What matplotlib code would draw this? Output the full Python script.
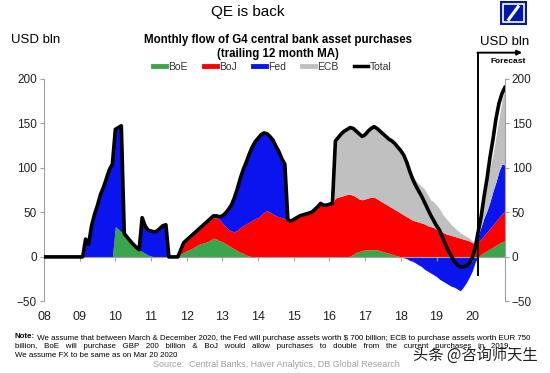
import numpy as np
import matplotlib
matplotlib.use('Agg')
import matplotlib.pyplot as plt
from matplotlib.lines import Line2D
from matplotlib.patches import Rectangle

plt.rcParams['font.family'] = ['Liberation Sans', 'DejaVu Sans']

# monthly values, Jan 2008 .. Dec 2020, USD bln (trailing 12m MA)
total = [
    0, 0, 0, 0, 0, 0, 0, 0, 0, 0, 0, 0,                      # 2008
    0, 0, 20, 14, 35, 48, 58, 70, 78, 88, 98, 104,           # 2009
    143, 145, 147, 26, 22, 18, 14, 11, 8, 44, 35, 30,        # 2010
    29, 28, 29, 32, 35, 36, 0, 0, 0, 0, 8, 16,               # 2011
    19, 22, 25, 28, 31, 34, 37, 40, 43, 46, 46, 45,          # 2012
    46, 49, 53, 58, 66, 76, 88, 98, 106, 115, 123, 129,      # 2013
    133, 137, 139, 138, 135, 131, 124, 118, 110, 104, 42, 40,  # 2014
    42, 44, 46, 47, 48, 49, 50, 53, 56, 60, 58, 58,          # 2015
    59, 60, 130, 134, 138, 141, 143, 145, 144, 141, 138, 135,  # 2016
    137, 141, 144, 146, 144, 141, 138, 135, 132, 130, 127, 123,  # 2017
    119, 114, 106, 96, 87, 80, 74, 68, 61, 54, 47, 41,       # 2018
    35, 30, 22, 14, 7, 1, -5, -9, -11, -11, -10, -7,         # 2019
    -1, 10, 28, 45, 68, 88, 112, 132, 155, 172, 183, 190,    # 2020
]

boe = [
    0, 0, 0, 0, 0, 0, 0, 0, 0, 0, 0, 0,
    0, 0, 0, 0, 0, 0, 0, 0, 0, 0, 0, 0,
    34, 31, 28, 25, 21, 17, 14, 11, 8, 6, 4, 2,
    1, 0, 0, 0, 0, 0, 0, 0, 0, 0, 3, 5,
    7, 8, 10, 12, 14, 15, 16, 17, 19, 21, 20, 18,
    17, 15, 13, 11, 9, 7, 5, 4, 2, 1, 0, 0,
    0, 0, 0, 0, 0, 0, 0, 0, 0, 0, 0, 0,
    0, 0, 0, 0, 0, 0, 0, 0, 0, 0, 0, 0,
    0, 0, 0, 0, 0, 0, 0, 1, 3, 5, 6, 7,
    8, 8, 8, 8, 8, 7, 6, 5, 4, 3, 2, 1,
    0, 0, 0, 0, 0, 0, 0, 0, 0, 0, 0, 0,
    0, 0, 0, 0, 0, 0, 0, 0, 0, 0, 0, 0,
    0, 0, 0, 3, 5, 7, 9, 11, 13, 15, 17, 18,
]

boj = [
    0, 0, 0, 0, 0, 0, 0, 0, 0, 0, 0, 0,
    0, 0, 0, 0, 0, 0, 0, 0, 0, 0, 0, 0,
    0, 0, 0, 0, 0, 0, 0, 0, 0, 0, 0, 0,
    0, 0, 0, 0, 0, 0, 0, 0, 0, 0, 5, 10,
    11, 13, 14, 15, 16, 18, 20, 22, 23, 23, 24, 24,
    21, 19, 18, 18, 19, 23, 28, 31, 35, 38, 41, 43,
    44, 47, 50, 52, 50, 48, 46, 45, 44, 43, 42, 40,
    42, 44, 46, 47, 48, 49, 50, 53, 56, 60, 58, 58,
    59, 60, 66, 67, 68, 69, 70, 69, 66, 62, 59, 57,
    57, 58, 59, 59, 57, 56, 55, 54, 53, 52, 51, 50,
    49, 47, 45, 43, 41, 40, 39, 38, 37, 35, 34, 33,
    31, 29, 28, 26, 25, 24, 23, 22, 21, 20, 19, 18,
    16, 15, 17, 17, 19, 21, 23, 25, 27, 29, 31, 34,
]

fed = [
    0, 0, 0, 0, 0, 0, 0, 0, 0, 0, 0, 0,
    0, 0, 20, 14, 35, 48, 58, 70, 78, 88, 98, 104,
    109, 114, 119, 1, 1, 1, 0, 0, 0, 38, 31, 28,
    28, 28, 29, 32, 35, 36, 0, 0, 0, 0, 0, 1,
    1, 1, 1, 1, 1, 1, 1, 1, 1, 2, 2, 3,
    8, 15, 22, 29, 38, 46, 55, 63, 69, 76, 82, 86,
    89, 90, 89, 86, 85, 83, 78, 73, 66, 61, 0, 0,
    0, 0, 0, 0, 0, 0, 0, 0, 0, 0, 0, 0,
    0, 0, 0, 0, 0, 0, 0, 0, 0, 0, 0, 0,
    0, 0, 0, 0, 0, 0, 0, 0, 0, 0, 0, 0,
    0, -1, -2, -4, -5, -7, -9, -11, -14, -16, -18, -20,
    -22, -25, -27, -29, -31, -33, -34, -36, -38, -34, -29, -23,
    -16, -6, 7, 14, 20, 24, 30, 38, 44, 52, 56, 51,
]

ecb = [
    0, 0, 0, 0, 0, 0, 0, 0, 0, 0, 0, 0,
    0, 0, 0, 0, 0, 0, 0, 0, 0, 0, 0, 0,
    0, 0, 0, 0, 0, 0, 0, 0, 0, 0, 0, 0,
    0, 0, 0, 0, 0, 0, 0, 0, 0, 0, 0, 0,
    0, 0, 0, 0, 0, 0, 0, 0, 0, 0, 0, 0,
    0, 0, 0, 0, 0, 0, 0, 0, 0, 0, 0, 0,
    0, 0, 0, 0, 0, 0, 0, 0, 0, 0, 0, 0,
    0, 0, 0, 0, 0, 0, 0, 0, 0, 0, 0, 0,
    0, 0, 64, 67, 70, 72, 73, 75, 75, 74, 73, 71,
    72, 75, 77, 79, 79, 78, 77, 76, 75, 75, 74, 72,
    70, 66, 61, 55, 50, 46, 43, 41, 39, 35, 30, 29,
    27, 25, 20, 18, 15, 12, 10, 8, 6, 5, 4, 3,
    2, 0, 6, 14, 24, 33, 38, 41, 51, 59, 71, 85,
]

years = list(range(2008, 2021))
year_labels = ['08', '09', '10', '11', '12', '13', '14', '15', '16', '17', '18', '19', '20']
forecast_start = 2020 + 2 / 12

colors = {'BoE': '#3aa64c', 'BoJ': '#ff0000', 'Fed': '#0a14ee', 'ECB': '#c0c0c0'}

x = 2008 + np.arange(len(total)) / 12
boe_a = np.array(boe, float)
boj_a = np.array(boj, float)
fed_a = np.array(fed, float)
ecb_a = np.array(ecb, float)
fed_pos = np.clip(fed_a, 0, None)
fed_neg = np.clip(fed_a, None, 0)

lvl1 = boe_a
lvl2 = lvl1 + boj_a
lvl3 = lvl2 + fed_pos
lvl4 = lvl3 + ecb_a

fig = plt.figure(figsize=(5.5, 3.73), dpi=100)
ax = fig.add_axes([0.08, 0.1917, 0.838, 0.5978])

ax.fill_between(x, 0, lvl1, color=colors['BoE'], lw=0)
ax.fill_between(x, lvl1, lvl2, color=colors['BoJ'], lw=0)
ax.fill_between(x, lvl2, lvl3, color=colors['Fed'], lw=0)
ax.fill_between(x, lvl3, lvl4, color=colors['ECB'], lw=0)
ax.fill_between(x, fed_neg, 0, color=colors['Fed'], lw=0)
ax.plot(x, total, color='black', lw=2.6, solid_joinstyle='round', zorder=5)

ax.set_xlim(x[0], x[-1])
ax.set_ylim(-50, 200)
ax.set_yticks([-50, 0, 50, 100, 150, 200])
ax.tick_params(axis='y', which='both', left=True, right=True, labelleft=True,
               labelright=True, length=3, color='#a0a0a0', labelsize=8.5,
               labelcolor='#222222', pad=2)

ax.spines['top'].set_visible(False)
for side in ['left', 'right', 'bottom']:
    ax.spines[side].set_color('#a0a0a0')
ax.spines['bottom'].set_position(('data', 0))
ax.set_xticks(years)
ax.tick_params(axis='x', length=3, color='#a0a0a0', labelbottom=False)

sec = ax.secondary_xaxis(0.0)
sec.set_xticks(years, year_labels)
sec.tick_params(length=0, pad=7, labelsize=9, labelcolor='#222222')
sec.spines['bottom'].set_visible(False)

# forecast marker
ax.plot([forecast_start, forecast_start], [-20, 229], color='black', lw=1.4,
        clip_on=False, zorder=6)
ax.annotate('', xy=(2021.4, 229), xytext=(forecast_start - 0.02, 229),
            arrowprops=dict(arrowstyle='-|>', color='black', lw=1.4,
                            mutation_scale=7, shrinkA=0, shrinkB=0),
            annotation_clip=False)
ax.text(2021.0, 219, 'Forecast', fontsize=6, fontweight='bold',
        ha='center', va='center', clip_on=False)

# headings
fig.text(0.45, 0.967, 'QE is back', fontsize=11, ha='center', va='center')
fig.text(0.065, 0.893, 'USD bln', fontsize=9.5, ha='center', va='center')
fig.text(0.918, 0.888, 'USD bln', fontsize=9.5, ha='center', va='center')
fig.text(0.505, 0.893, 'Monthly flow of G4 central bank asset purchases',
         fontsize=8.3, fontweight='bold', ha='center', va='center')
fig.text(0.505, 0.855, '(trailing 12 month MA)', fontsize=8.3,
         fontweight='bold', ha='center', va='center')

handles = [Line2D([], [], color=colors[k], lw=3.5) for k in ['BoE', 'BoJ', 'Fed', 'ECB']]
handles.append(Line2D([], [], color='black', lw=2.5))
fig.legend(handles, ['BoE', 'BoJ', 'Fed', 'ECB', 'Total'], loc='center',
           bbox_to_anchor=(0.495, 0.82), ncol=5, frameon=False, fontsize=7.5,
           handlelength=1.3, handletextpad=0.2, columnspacing=1.5,
           labelcolor='#333333')

# Deutsche Bank logo
fig.patches.append(Rectangle((0.909, 0.932), 0.049, 0.066, transform=fig.transFigure,
                             facecolor='#0018a8', edgecolor='none'))
fig.patches.append(Rectangle((0.915, 0.941), 0.037, 0.048, transform=fig.transFigure,
                             facecolor='none', edgecolor='white', lw=1.2))
fig.lines.append(Line2D([0.925, 0.942], [0.948, 0.982], transform=fig.transFigure,
                        color='white', lw=2.2))

# footnote
note = fig.text(0.027, 0.094, 'Note:', fontsize=5.7, fontweight='bold', va='baseline')
ax.annotate(' We assume that between March & December 2020, the Fed will purchase assets '
            'worth $ 700 billion; ECB to purchase assets worth EUR 750',
            xy=(1, 0), xycoords=note, fontsize=5.7, va='baseline', ha='left')
fig.text(0.027, 0.068,
         'billion,   BoE   will   purchase   GBP   200   billion   &   BoJ   would   '
         'allow   purchases   to   double   from   the   current   purchases   in   2019.',
         fontsize=5.7, va='baseline')
fig.text(0.027, 0.042, 'We assume FX to be same as on Mar 20 2020', fontsize=5.7,
         va='baseline')
fig.text(0.503, 0.016, 'Source:  Central Banks, Haver Analytics, DB Global Research',
         fontsize=6.5, color='#a0a0a0', ha='center', va='baseline')

fig.text(0.865, 0.048, '头条 @咨询师天生', fontsize=11, color='#222222',
         ha='center', va='center', family=['Noto Sans CJK SC', 'DejaVu Sans'])

fig.savefig('out.png', dpi=100)
